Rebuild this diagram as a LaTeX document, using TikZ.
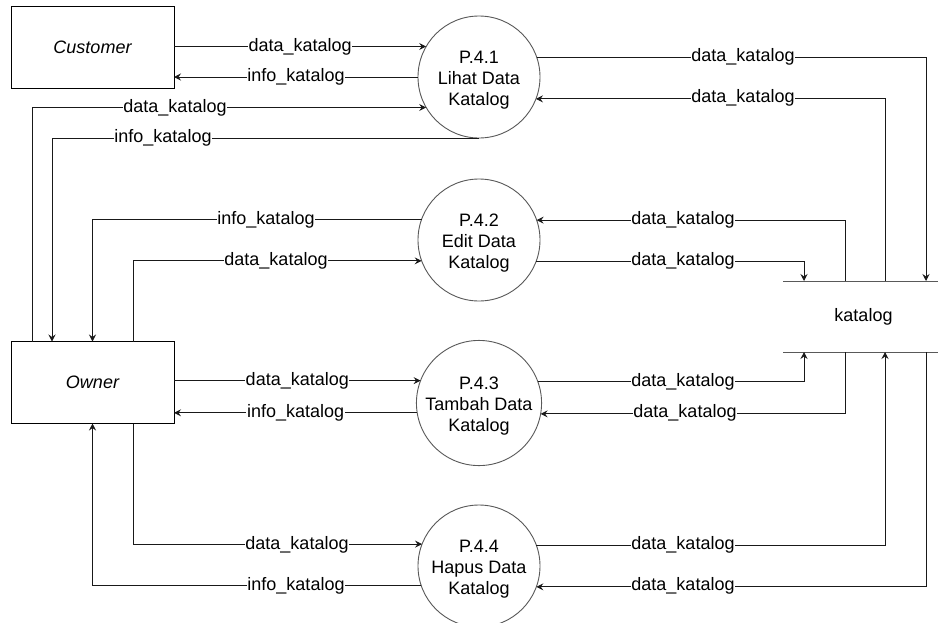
\documentclass[tikz,border=0pt]{standalone}
\usepackage{fontspec}
\setmainfont{Liberation Sans}
\usetikzlibrary{arrows.meta}
\newcommand\mytopstrut{\rule{0pt}{19pt}}
\begin{document}
\begin{tikzpicture}[x=1pt,y=-1pt,
  font=\fontsize{18}{21}\selectfont,
  ent/.style={draw=black, line width=0.9pt, minimum width=163pt, minimum height=82pt, inner sep=0pt, outer sep=0pt, font=\fontsize{18}{21}\selectfont\itshape},
  proc/.style={circle, draw=black!65, line width=0.9pt, minimum size=122pt, inner sep=0pt, outer sep=0pt, align=center},
  flow/.style={line width=0.9pt, draw=black!90, -{Stealth[length=7pt,width=7pt,inset=2.5pt]}},
  lbl/.style={fill=white, inner sep=0.6pt}
]
\useasboundingbox (0,0) rectangle (938,622);
\fill[white] (0,0) rectangle (938,622);

\node[ent] (cust) at (92.5,47) {Customer};
\node[ent] (own) at (92.5,382.5) {Owner};
\node[proc] (p1) at (479,77) {\mytopstrut P.4.1\\Lihat Data\\Katalog};
\node[proc] (p2) at (479,240) {\mytopstrut P.4.2\\Edit Data\\Katalog};
\node[proc] (p3) at (479,403) {\mytopstrut P.4.3\\Tambah Data\\Katalog};
\node[proc] (p4) at (479,566) {\mytopstrut P.4.4\\Hapus Data\\Katalog};
\node[minimum width=155pt, minimum height=71pt, inner sep=0pt, outer sep=0pt] (store) at (860.5,316.5) {\hspace*{6pt}katalog};
\draw[line width=0.9pt, draw=black!65] (store.north west) -- (store.north east) (store.south west) -- (store.south east);

\coordinate (x32) at (32,0);
\coordinate (x52) at (52,0);
\coordinate (x133) at (133,0);
\coordinate (x804) at (804,0);
\coordinate (x845) at (845,0);
\coordinate (x885) at (885,0);
\coordinate (x926) at (926,0);

% Customer <-> P.4.1
\draw[flow] (cust.east |- p1.150.5) -- node[lbl]{data\_katalog} (p1.150.5);
\draw[flow] (p1.west) -- node[lbl]{info\_katalog} (cust.east |- p1.west);
% Owner <-> P.4.1
\draw[flow] (own.north -| x32) |- (p1.210.5) node[lbl] at (175,108) {data\_katalog};
\draw[flow] (p1.south) -| (own.north -| x52) node[lbl] at (163,138) {info\_katalog};
% Owner <-> P.4.2
\draw[flow] (p2.160.9) -| (own.north) node[lbl] at (266,220) {info\_katalog};
\draw[flow] (own.north -| x133) |- (p2.200.1) node[lbl] at (276,261) {data\_katalog};
% Owner <-> P.4.3
\draw[flow] (own.east |- p3.159.9) -- node[lbl]{data\_katalog} (p3.159.9);
\draw[flow] (p3.189.4) -- node[lbl]{info\_katalog} (own.east |- p3.189.4);
% Owner <-> P.4.4
\draw[flow] (own.south -| x133) |- (p4.159.9) node[lbl] at (297,545) {data\_katalog};
\draw[flow] (p4.199.1) -| (own.south) node[lbl] at (296,586) {info\_katalog};

% katalog <-> P.4.1
\draw[flow] (p1.19.1) -| (store.north -| x926) node[lbl] at (743,57) {data\_katalog};
\draw[flow] (store.north -| x885) |- (p1.339.9) node[lbl] at (743,98) {data\_katalog};
% katalog <-> P.4.2
\draw[flow] (store.north -| x845) |- (p2.19.1) node[lbl] at (683,220) {data\_katalog};
\draw[flow] (p2.339.9) -| (store.north -| x804) node[lbl] at (683,261) {data\_katalog};
% katalog <-> P.4.3
\draw[flow] (p3.20.1) -| (store.south -| x804) node[lbl] at (683,382) {data\_katalog};
\draw[flow] (store.south -| x845) |- (p3.350.6) node[lbl] at (685,413) {data\_katalog};
% katalog <-> P.4.4
\draw[flow] (p4.20.1) -| (store.south -| x885) node[lbl] at (683,545) {data\_katalog};
\draw[flow] (store.south -| x926) |- (p4.340.9) node[lbl] at (683,586) {data\_katalog};
\end{tikzpicture}
\end{document}
